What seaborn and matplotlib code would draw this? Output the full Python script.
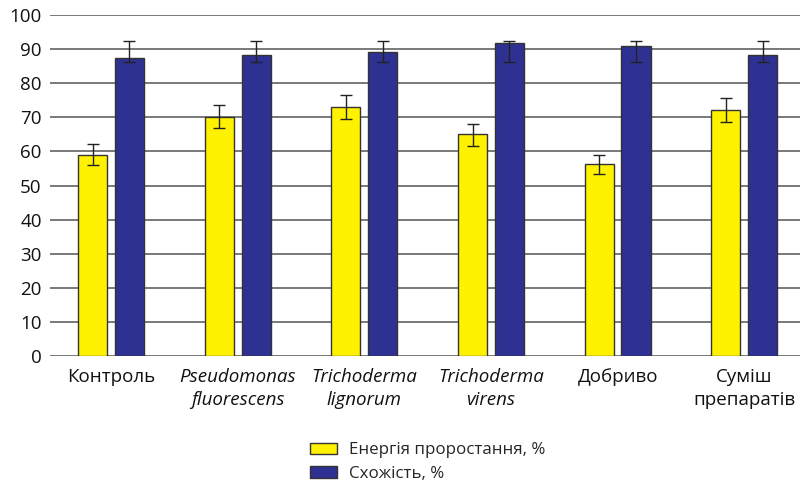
import numpy as np
import pandas as pd
import matplotlib
matplotlib.use("Agg")
import matplotlib.pyplot as plt
import seaborn as sns

# data
categories = ["Контроль", "Pseudomonas\nfluorescens", "Trichoderma\nlignorum",
              "Trichoderma\nvirens", "Добриво", "Суміш\nпрепаратів"]
italic_cats = [False, True, True, True, False, False]
series = ["Енергія проростання, %", "Схожість, %"]
energy = [59.0, 70.0, 73.0, 65.0, 56.3, 72.1]
energy_lo = [3.0, 3.2, 3.6, 3.3, 2.9, 3.5]
energy_hi = [3.2, 3.6, 3.7, 3.1, 2.7, 3.7]
germ = [87.3, 88.3, 89.1, 91.9, 91.0, 88.3]
germ_lo = [1.0, 2.0, 2.8, 5.6, 4.7, 2.0]
germ_hi = [5.1, 4.1, 3.3, 0.5, 1.4, 4.1]

colors = ["#FFF200", "#2E3192"]

df = pd.DataFrame({
    "cat": categories * 2,
    "series": [series[0]] * 6 + [series[1]] * 6,
    "value": energy + germ,
})

sns.set_style("white")
plt.rcParams["font.family"] = ["Open Sans", "DejaVu Sans"]

fig = plt.figure(figsize=(8, 4.86), dpi=100)
ax = fig.add_axes([0.0625, 0.2675, 0.9375, 0.7015])

sns.barplot(data=df, x="cat", y="value", hue="series", palette=colors,
            saturation=1, width=0.58, gap=0.21, errorbar=None,
            edgecolor="#333333", linewidth=1.0, ax=ax, zorder=3)

# error bars
x = np.arange(len(categories))
off = 0.145
ax.errorbar(x - off, energy, yerr=[energy_lo, energy_hi], fmt="none",
            ecolor="#222222", elinewidth=1.0, capsize=4, capthick=1.0, zorder=4)
ax.errorbar(x + off, germ, yerr=[germ_lo, germ_hi], fmt="none",
            ecolor="#222222", elinewidth=1.0, capsize=4, capthick=1.0, zorder=4)

ax.set_ylim(0, 100)
ax.set_xlim(-0.482, 5.44)
ax.set_yticks(range(0, 101, 10))
ax.yaxis.grid(True, color="#555555", linewidth=1.1, zorder=0)
ax.set_axisbelow(True)
for s in ax.spines.values():
    s.set_visible(False)
ax.tick_params(axis="both", length=0, labelsize=13.5, colors="#111111")
ax.tick_params(axis="y", pad=6)
ax.tick_params(axis="x", pad=9)
ax.set_xlabel("")
ax.set_ylabel("")
for lab, it in zip(ax.get_xticklabels(), italic_cats):
    lab.set_linespacing(1.35)
    if it:
        lab.set_fontstyle("italic")

ax.legend(loc="upper center", bbox_to_anchor=(0.503, -0.209), ncol=1,
          frameon=False, fontsize=12.2, handlelength=1.6, handleheight=0.7,
          labelspacing=0.45, handletextpad=0.7)

fig.savefig("out.png", dpi=100)
